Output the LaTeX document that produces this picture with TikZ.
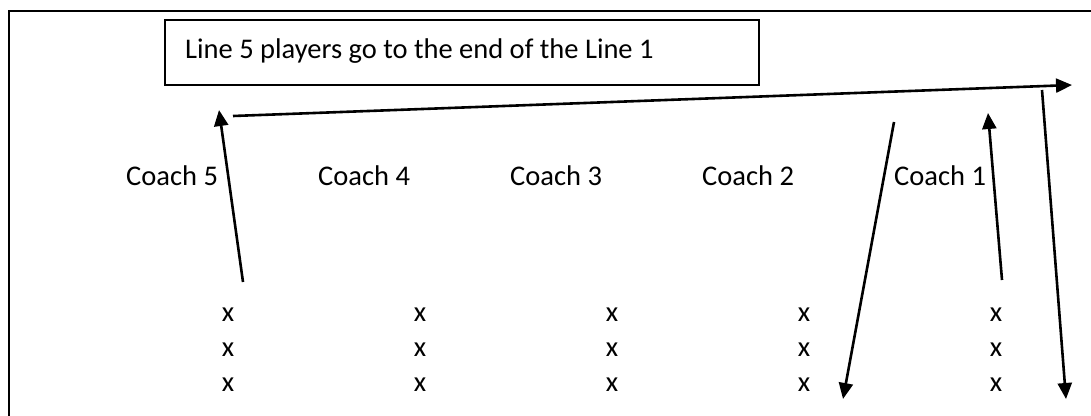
\documentclass[tikz,border=0pt]{standalone}
\usepackage{fontspec}
\setmainfont{Carlito}
\usetikzlibrary{arrows.meta}
\tikzset{
  lbl/.style={inner sep=0pt, anchor=base west, font=\fontsize{28.5}{31}\selectfont},
  px/.style={inner sep=0pt, anchor=center, font=\fontsize{28.5}{31}\selectfont},
  arr/.style={line width=2.6pt, -{Triangle[length=16pt,width=14pt]}},
}
\begin{document}
\begin{tikzpicture}[x=1pt,y=-1pt]
\useasboundingbox (0,0) rectangle (1091,415);
\clip (0,0) rectangle (1091,415);
\fill[white] (0,0) rectangle (1091,415);
% outer frame (cropped at right and bottom)
\draw[line width=2pt] (9,430) -- (9,11) -- (1100,11);
% title box
\node[draw, line width=1.6pt, minimum width=594pt, minimum height=65pt, inner sep=0pt, anchor=north west] (title) at (164,19) {};
\node[lbl] (titletext) at (185,58) {Line 5 players go to the end of the Line 1};
% coaches
\foreach \k/\n in {5/0,4/1,3/2,2/3,1/4}{
  \node[lbl] (coach\k) at ({126+192*\n},185) {Coach \k};
}
% players
\foreach \k/\n in {5/0,4/1,3/2,2/3,1/4}{
  \foreach \r/\yy in {1/315,2/350,3/385}{
    \node[px] (p\k\r) at ({228+192*\n},\yy) {x};
  }
}
% arrow coordinates
\coordinate (a5s) at (243,282);
\coordinate (a5e) at (219,110);
\coordinate (hs) at (233,116);
\coordinate (he) at (1072,85);
\coordinate (a2s) at (894,122);
\coordinate (a2e) at (843,399);
\coordinate (a1s) at (1002,280);
\coordinate (a1e) at (988,113);
\coordinate (rs) at (1042,90);
\coordinate (re) at (1066,399);
\draw[arr] (a5s) -- (a5e);
\draw[arr] (hs) -- (he);
\draw[arr] (a2s) -- (a2e);
\draw[arr] (a1s) -- (a1e);
\draw[arr] (rs) -- (re);
\end{tikzpicture}
\end{document}
